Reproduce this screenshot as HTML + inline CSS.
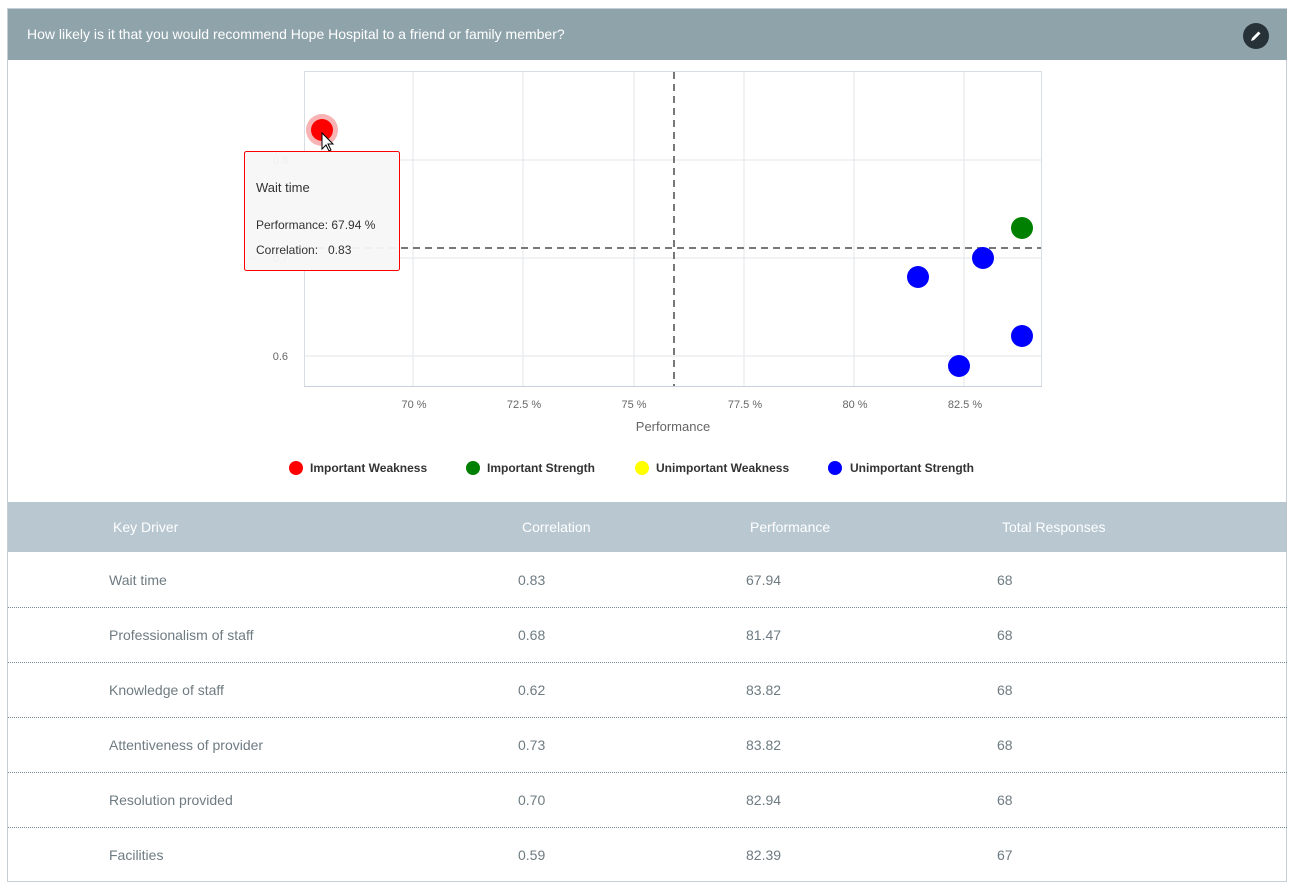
<!DOCTYPE html>
<html><head><style>
body{margin:0;width:1297px;height:891px;background:#fff;font-family:"Liberation Sans",sans-serif;position:relative;overflow:hidden}
.box{position:absolute;left:7px;top:8px;width:1280px;height:874px;border:1px solid #c5d0d6;box-sizing:border-box}
.hdr{position:absolute;left:8px;top:9px;width:1279px;height:51px;background:#8fa3ab;color:#fff;font-size:14px;line-height:51px;padding-left:19px;box-sizing:border-box}
.th{position:absolute;left:8px;top:502px;width:1279px;height:50px;background:#b8c7d0}
.t{position:absolute;font-size:14px;color:#6e7b82}
.h{position:absolute;font-size:14px;color:#fff;top:519px}
.sep{position:absolute;left:8px;width:1279px;border-top:1px dotted #7a8a94}
</style></head><body>
<div class="box"></div>
<div class="hdr">How likely is it that you would recommend Hope Hospital to a friend or family member?</div>
<svg style="position:absolute;left:1243px;top:23px" width="26" height="26"><circle cx="13" cy="13" r="13" fill="#263238"/><path d="M8 18 L9 15 L15.5 8.5 L17.5 10.5 L11 17 Z" fill="#fff"/></svg>
<svg style="position:absolute;left:0;top:0" width="1297" height="500" font-family="Liberation Sans, sans-serif">
<rect x="304.5" y="71.5" width="737" height="315" fill="#fff" stroke="#d8dde3"/>
<g stroke="#e3e6ea">
<line x1="413" y1="72" x2="413" y2="386"/><line x1="523" y1="72" x2="523" y2="386"/><line x1="634" y1="72" x2="634" y2="386"/><line x1="744" y1="72" x2="744" y2="386"/><line x1="854" y1="72" x2="854" y2="386"/><line x1="964" y1="72" x2="964" y2="386"/>
<line x1="305" y1="160" x2="1041" y2="160"/><line x1="305" y1="258" x2="1041" y2="258"/><line x1="305" y1="356" x2="1041" y2="356"/>
</g>
<line x1="304" y1="386.5" x2="1042" y2="386.5" stroke="#c8d0dc"/>
<line x1="674" y1="72" x2="674" y2="386" stroke="#777" stroke-width="2" stroke-dasharray="7,5"/>
<line x1="305" y1="248" x2="1041" y2="248" stroke="#777" stroke-width="2" stroke-dasharray="7,5"/>
<g font-size="11" fill="#666" text-anchor="middle">
<text x="414" y="408">70 %</text><text x="524" y="408">72.5 %</text><text x="634" y="408">75 %</text><text x="745" y="408">77.5 %</text><text x="855" y="408">80 %</text><text x="965" y="408">82.5 %</text>
<text x="673" y="431" font-size="13">Performance</text>
</g>
<g font-size="11" fill="#666" text-anchor="end"><text x="288" y="164">0.8</text><text x="288" y="262">0.7</text><text x="288" y="360">0.6</text></g>
<text transform="translate(256,230) rotate(-90)" font-size="12" fill="#ccc" text-anchor="middle">Importance</text>
<circle cx="1022" cy="228" r="11" fill="#008000"/>
<g fill="#0000ff"><circle cx="918" cy="277" r="11"/><circle cx="1022" cy="336" r="11"/><circle cx="983" cy="258" r="11"/><circle cx="959" cy="366" r="11"/></g>
<circle cx="322" cy="130" r="16" fill="#f8b4b4"/><circle cx="322" cy="130" r="11" fill="#ff0000"/>
<path d="M322 133 L322 149 L326 145 L329 151 L331 150 L328 144 L333 144 Z" fill="#fff" stroke="#000" stroke-width="1"/>
<rect x="244.5" y="151.5" width="155" height="119" fill="#f7f7f7" fill-opacity="0.95" stroke="#ff0000" rx="2"/>
<text x="256" y="192" font-size="13" fill="#333">Wait time</text>
<text x="256" y="229" font-size="12" fill="#333">Performance: 67.94 %</text>
<text x="256" y="254" font-size="12" fill="#333">Correlation:&#160;&#160;&#160;0.83</text>
<g font-size="12" font-weight="bold" fill="#333">
<circle cx="296" cy="468" r="7" fill="#ff0000"/><text x="310" y="472">Important Weakness</text>
<circle cx="473" cy="468" r="7" fill="#008000"/><text x="487" y="472">Important Strength</text>
<circle cx="642" cy="468" r="7" fill="#ffff00"/><text x="656" y="472">Unimportant Weakness</text>
<circle cx="835" cy="468" r="7" fill="#0000ff"/><text x="850" y="472">Unimportant Strength</text>
</g>
</svg>
<div class="th"></div>
<div class="h" style="left:113px">Key Driver</div><div class="h" style="left:522px">Correlation</div><div class="h" style="left:750px">Performance</div><div class="h" style="left:1002px">Total Responses</div>
<div class="t" style="left:109px;top:572px">Wait time</div><div class="t" style="left:518px;top:572px">0.83</div><div class="t" style="left:746px;top:572px">67.94</div><div class="t" style="left:997px;top:572px">68</div>
<div class="sep" style="top:607px"></div>
<div class="t" style="left:109px;top:627px">Professionalism of staff</div><div class="t" style="left:518px;top:627px">0.68</div><div class="t" style="left:746px;top:627px">81.47</div><div class="t" style="left:997px;top:627px">68</div>
<div class="sep" style="top:662px"></div>
<div class="t" style="left:109px;top:682px">Knowledge of staff</div><div class="t" style="left:518px;top:682px">0.62</div><div class="t" style="left:746px;top:682px">83.82</div><div class="t" style="left:997px;top:682px">68</div>
<div class="sep" style="top:717px"></div>
<div class="t" style="left:109px;top:737px">Attentiveness of provider</div><div class="t" style="left:518px;top:737px">0.73</div><div class="t" style="left:746px;top:737px">83.82</div><div class="t" style="left:997px;top:737px">68</div>
<div class="sep" style="top:772px"></div>
<div class="t" style="left:109px;top:792px">Resolution provided</div><div class="t" style="left:518px;top:792px">0.70</div><div class="t" style="left:746px;top:792px">82.94</div><div class="t" style="left:997px;top:792px">68</div>
<div class="sep" style="top:827px"></div>
<div class="t" style="left:109px;top:847px">Facilities</div><div class="t" style="left:518px;top:847px">0.59</div><div class="t" style="left:746px;top:847px">82.39</div><div class="t" style="left:997px;top:847px">67</div>
</body></html>
